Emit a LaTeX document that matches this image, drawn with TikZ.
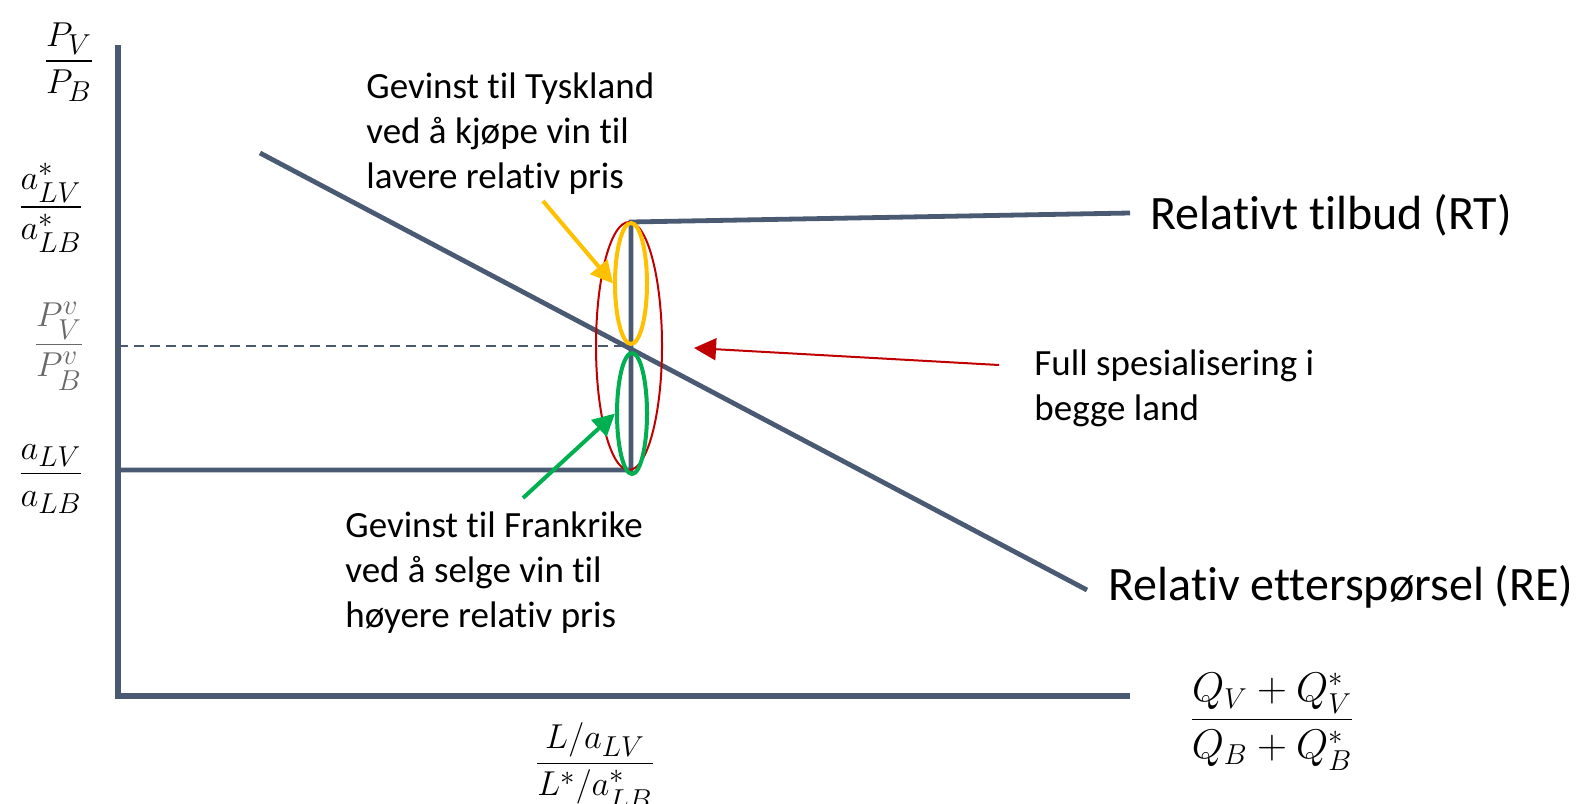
\documentclass[tikz,border=0pt]{standalone}
\usepackage{amsmath}
\usepackage{fontspec}
\setmainfont{Carlito}[Ligatures={NoCommon}]
\usetikzlibrary{arrows.meta,shapes.geometric}
\definecolor{slate}{RGB}{74,90,114}
\definecolor{yel}{RGB}{255,192,0}
\definecolor{grn}{RGB}{0,176,80}
\definecolor{rd}{RGB}{192,0,0}
\definecolor{pgray}{RGB}{105,105,105}
\tikzset{
  axisline/.style={draw=slate,line width=2.6pt},
  curveline/.style={draw=slate,line width=2.4pt},
  mathlbl/.style={inner sep=0pt,font=\fontsize{19}{23}\selectfont},
  txt/.style={inner sep=0pt,anchor=west,align=left,font=\fontsize{18.5}{22.5}\selectfont},
  biglbl/.style={inner sep=0pt,anchor=west,font=\fontsize{24}{28}\selectfont},
  ell/.style={ellipse,draw,inner sep=0pt},
  arr/.style={-{Triangle[length=11pt,width=11pt]}},
}
\begin{document}
\begin{tikzpicture}[x=0.5pt,y=-0.5pt]
\useasboundingbox (0,0) rectangle (1582,803);
% axes
\coordinate (ytop) at (118,45);
\coordinate (orig) at (118,696);
\coordinate (xend) at (1130,696);
\draw[axisline] (ytop) -- (orig) -- (xend);
% dashed
\coordinate (dash0) at (118,346);
\coordinate (dash1) at (631,346);
\draw[slate,line width=0.8pt,dash pattern=on 5pt off 3pt] (dash0) -- (dash1);
% RT
\coordinate (rt0) at (118,470);
\coordinate (rt1) at (631,470);
\coordinate (rt2) at (631,222);
\coordinate (rt3) at (1130,213);
\draw[curveline,line join=miter] (rt0) -- (rt1) -- (rt2) -- (rt3);
% RE
\coordinate (re0) at (260,153);
\coordinate (re1) at (1087,590);
\draw[curveline] (re0) -- (re1);
% ellipses
\node[ell,draw=rd,line width=1pt,minimum width=33pt,minimum height=124pt] (redell) at (629,346) {};
\node[ell,draw=yel,line width=2pt,minimum width=16pt,minimum height=60.5pt] (yelell) at (631,283.5) {};
\node[ell,draw=grn,line width=2pt,minimum width=15pt,minimum height=60.5pt] (grnell) at (632,413.5) {};
% arrows
\coordinate (ytail) at (543,201);
\draw[yel,line width=2pt,arr] (ytail) -- (yelell.west);
\coordinate (gtail) at (523,498);
\draw[grn,line width=2pt,arr] (gtail) -- (grnell.west);
\coordinate (rtail) at (999,365);
\coordinate (rtip) at (694,348);
\draw[rd,line width=1pt,arr] (rtail) -- (rtip);
% axis labels
\node[mathlbl] (lpv) at (69,62) {$\dfrac{P_V}{P_B}$};
\node[mathlbl] (lastar) at (51,208) {$\dfrac{a^*_{LV}}{a^*_{LB}}$};
\node[mathlbl,text=pgray] (lpvv) at (59,346) {$\dfrac{P^v_V}{P^v_B}$};
\node[mathlbl] (la) at (51,479) {$\dfrac{a_{LV}}{a_{LB}}$};
\node[mathlbl] (lL) at (595,766) {$\dfrac{L/a_{LV}}{L^*/a^*_{LB}}$};
\node[mathlbl,font=\fontsize{22}{26}\selectfont] (lQ) at (1272,722) {$\dfrac{Q_V+Q^*_V}{Q_B+Q^*_B}$};
% text
\node[biglbl] (rtl) at (1150,215) {Relativt tilbud (RT)};
\node[biglbl] (rel) at (1108,587) {Relativ etterspørsel (RE)};
\node[txt] (full) at (1034,388) {Full spesialisering i\\begge land};
\node[txt] (tysk) at (366,134) {Gevinst til Tyskland\\ved å kjøpe vin til\\lavere relativ pris};
\node[txt] (frank) at (345,573) {Gevinst til Frankrike\\ved å selge vin til\\høyere relativ pris};
\end{tikzpicture}
\end{document}
